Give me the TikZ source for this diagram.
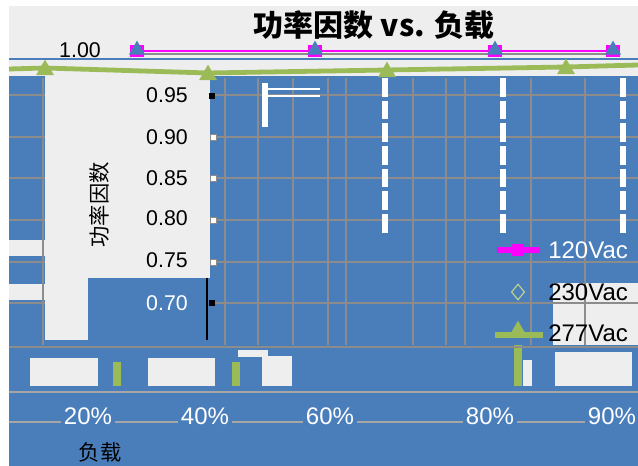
\documentclass[tikz,border=0pt]{standalone}
\usepackage{fontspec}
\setmainfont{Liberation Sans}
\newfontfamily\cjk{Noto Sans CJK SC}
\usetikzlibrary{shapes.geometric,calc}
\definecolor{bgblue}{HTML}{4A7EBB}
\definecolor{panelg}{HTML}{EEEEEE}
\definecolor{gridg}{HTML}{8C8C8C}
\definecolor{axisg}{HTML}{A6A6A6}
\definecolor{pfmag}{HTML}{FF00FF}
\definecolor{pfgreen}{HTML}{9BBB59}
\tikzset{
  gridline/.style={draw=gridg, line width=1.2pt},
  vgrid/.style={draw=gridg, line width=1pt},
  whitecol/.style={draw=white, line width=4.5pt, dash pattern=on 14pt off 3pt},
  ylab/.style={font=\fontsize{16}{16}\selectfont, text=black, inner sep=0pt},
  xlab/.style={font=\fontsize{18}{18}\selectfont, text=white, fill=bgblue, inner sep=2pt},
  legtext/.style={font=\fontsize{18}{18}\selectfont, anchor=west, inner sep=0pt},
  sqmark/.style={rectangle, fill=pfmag, minimum width=10.5pt, minimum height=9pt, inner sep=0pt},
  bluetri/.style={regular polygon, regular polygon sides=3, fill=bgblue, minimum size=14pt, inner sep=0pt},
  greentri/.style={regular polygon, regular polygon sides=3, fill=pfgreen, minimum size=15.6pt, inner sep=0pt},
  dmark/.style={diamond, draw=pfgreen!70!white, line width=0.9pt, minimum width=10pt, minimum height=12pt, inner sep=0pt},
  magline/.style={draw=pfmag, line width=2pt},
  grnline/.style={draw=pfgreen, line width=3.6pt},
  tickw/.style={rectangle, fill=white, draw=gridg, line width=0.4pt, minimum size=4.5pt, inner sep=0pt},
  tickb/.style={rectangle, fill=black, minimum size=5pt, inner sep=0pt}
}
\begin{document}
\begin{tikzpicture}[x=0.75pt,y=-0.75pt]
\useasboundingbox (0,0) rectangle (638,466);
% backgrounds
\fill[white] (0,0) rectangle (638,466);
\fill[panelg] (9,6) rectangle (638,466);
\fill[bgblue] (9,58) rectangle (638,466);
\fill[panelg] (9,60) rectangle (638,76);
\fill[panelg] (45,60) rectangle (210,278);
\fill[panelg] (45,278) rectangle (88,340);
\fill[panelg] (9,240) rectangle (45,256);
\fill[panelg] (9,284) rectangle (45,300);
\fill[panelg] (553,283) rectangle (638,345);
% glitch blocks near the bottom
\fill[panelg] (30,358) rectangle (98,386);
\fill[panelg] (148,358) rectangle (215,386);
\fill[panelg] (262,356) rectangle (292,386);
\fill[panelg] (238,350) rectangle (268,357);
\fill[panelg] (555,352) rectangle (632,386);
\fill[panelg] (523,360) rectangle (532,386);
\fill[pfgreen] (113,362) rectangle (121,386);
\fill[pfgreen] (232,362) rectangle (240,386);
\fill[pfgreen] (514,345) rectangle (522,386);
% horizontal grid
\foreach \yy in {95,137,178,220,262,303}{
  \draw[gridline] (210,\yy) -- (638,\yy);
  \draw[gridline] (9,\yy) -- (45,\yy);
}
% vertical grid
\foreach \xx in {225,258,293,328,346,413,446,465,531,585}{
  \draw[vgrid] (\xx,78) -- (\xx,345);
}
\draw[vgrid] (43,78) -- (43,345);
% white columns
\foreach \xx in {385,503,623}{
  \draw[whitecol] (\xx,78) -- (\xx,235);
}
\draw[white, line width=4pt] (265,83) -- (265,127);
\draw[white, line width=1.5pt] (268,89) -- (320,89);
\draw[white, line width=1.5pt] (268,96) -- (320,96);
% baselines
\draw[draw=gridg, line width=1.5pt] (9,347) -- (638,347);
\draw[draw=axisg, line width=2.2pt] (9,392) -- (638,392);
\draw[draw=axisg, line width=1.5pt] (9,422) -- (638,422);
% y axis piece and ticks
\draw[black, line width=1.5pt] (207,278) -- (207,340);
\node[tickb] (t1) at (212,96) {};
\node[tickw] (t2) at (213,137) {};
\node[tickw] (t3) at (213,178) {};
\node[tickw] (t4) at (213,220) {};
\node[tickw] (t5) at (213,262) {};
\node[tickb] (t6) at (212,303) {};
% title
\node[font=\cjk\bfseries\fontsize{22.5}{22.5}\selectfont, inner sep=0pt] (title) at (374,25) {功率因数 vs. 负载};
% y labels
\node[ylab] (y100) at (80,50) {1.00};
\node[ylab, anchor=east] (y95) at (188,95) {0.95};
\node[ylab, anchor=east] (y90) at (188,137) {0.90};
\node[ylab, anchor=east] (y85) at (188,178) {0.85};
\node[ylab, anchor=east] (y80) at (188,218) {0.80};
\node[ylab, anchor=east] (y75) at (188,260) {0.75};
\node[ylab, anchor=east, text=white] (y70) at (188,303) {0.70};
% axis titles
\node[font=\cjk\fontsize{16}{16}\selectfont, rotate=90, inner sep=0pt] (ytitle) at (99,205) {功率因数};
\node[font=\cjk\fontsize{16}{16}\selectfont, inner sep=0pt] (xtitle) at (100,452) {负载};
% x labels
\node[xlab] (x1) at (88,416) {20\%};
\node[xlab] (x2) at (205,416) {40\%};
\node[xlab] (x3) at (330,416) {60\%};
\node[xlab] (x4) at (490,416) {80\%};
\node[xlab] (x5) at (612,416) {90\%};
% series: magenta squares
\coordinate (m1) at (137,51);
\coordinate (m2) at (315,51);
\coordinate (m3) at (495,51);
\coordinate (m4) at (613,51);
\draw[magline] (m1) -- (m2) -- (m3) -- (m4);
\draw[draw=gridg, line width=0.8pt] (m1) ++(0,3) -- ++(476,0);
\foreach \m in {m1,m2,m3,m4}{
  \node[sqmark] at (\m) {};
  \node[bluetri] at ($(\m)+(0,-1)$) {};
}
% series: green triangles
\coordinate (g0) at (9,69);
\coordinate (g1) at (45,68);
\coordinate (g2) at (208,73);
\coordinate (g3) at (387,70);
\coordinate (g4) at (566,67);
\coordinate (g5) at (638,65);
\draw[grnline] (g0) -- (g1) -- (g2) -- (g3) -- (g4) -- (g5);
\node[greentri] (gt1) at (45,70) {};
\node[greentri] (gt2) at (208,75) {};
\node[greentri] (gt3) at (387,72) {};
\node[greentri] (gt4) at (566,69) {};
% legend
\coordinate (l1a) at (497,250);
\coordinate (l1b) at (540,250);
\draw[draw=pfmag, line width=4.5pt] (l1a) -- (l1b);
\node[sqmark, minimum width=9pt, minimum height=9pt] (l1m) at (518,250) {};
\node[legtext, text=white] (l1t) at (548,250) {120Vac};
\node[dmark] (l2m) at (518,292) {};
\node[legtext, text=black] (l2t) at (548,292) {230Vac};
\coordinate (l3a) at (495,335);
\coordinate (l3b) at (543,335);
\draw[draw=pfgreen, line width=4pt] (l3a) -- (l3b);
\node[greentri, minimum size=14pt] (l3m) at (518,330) {};
\node[legtext, text=black] (l3t) at (548,333) {277Vac};
\end{tikzpicture}
\end{document}
